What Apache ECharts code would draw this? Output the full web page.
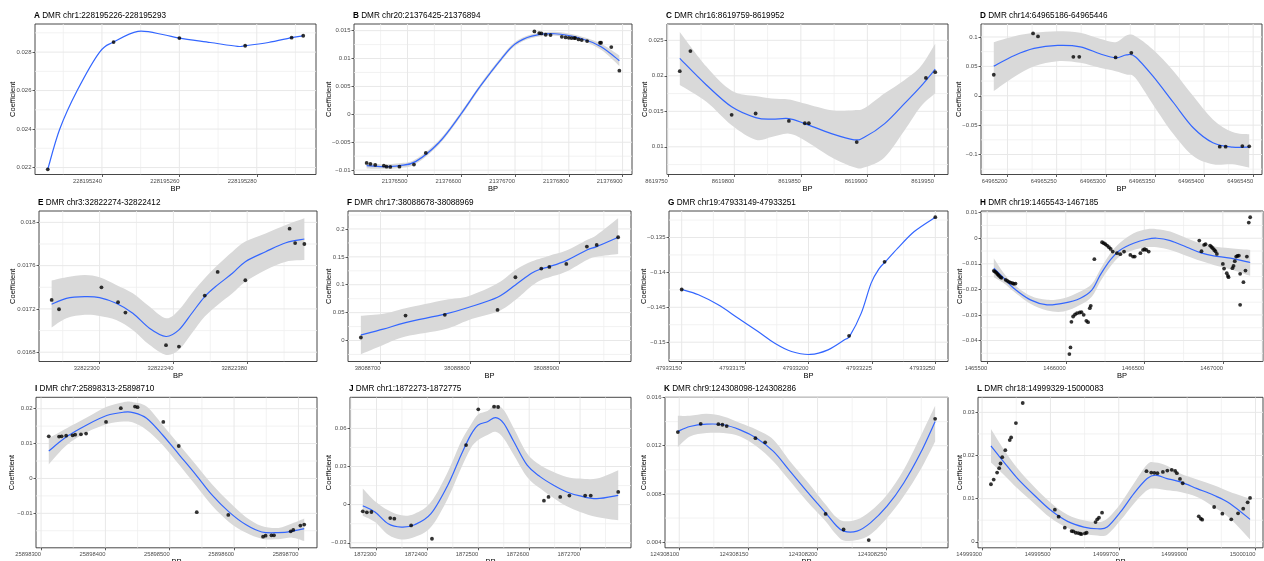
<!DOCTYPE html>
<html><head><meta charset="utf-8">
<script src="https://cdn.jsdelivr.net/npm/echarts@6/dist/echarts.min.js"></script>
<style>html,body{margin:0;padding:0;background:#fff}#c{width:1264px;height:561px}</style>
</head><body><div id="c"></div>
<script>
// ================= DATA =================
// ---- A ----
const titleA = 'DMR chr1:228195226-228195293';
const ptXA = [228195226, 228195243, 228195260, 228195277, 228195289, 228195292];
const ptYA = [0.02191, 0.02852, 0.02873, 0.02833, 0.02875, 0.02885];
const fitXA = [228195226, 228195229.1, 228195233.6, 228195239.4, 228195243, 228195249.3, 228195256, 228195260, 228195268, 228195275, 228195277, 228195283, 228195289, 228195292];
const fitYA = [0.02191, 0.024, 0.026, 0.028, 0.02852, 0.02908, 0.0289, 0.02873, 0.0285, 0.0283, 0.02833, 0.0285, 0.02875, 0.02885];
const loA = null, hiA = null;
const xTicksA = [228195240, 228195260, 228195280];
const yTicksA = [0.022, 0.024, 0.026, 0.028];
const yLimA = [0.02164, 0.02946];

// ---- B ----
const titleB = 'DMR chr20:21376425-21376894';
const ptXB = [21376424, 21376431, 21376440, 21376456, 21376461, 21376468, 21376485, 21376512, 21376534, 21376736, 21376745, 21376749, 21376757, 21376766, 21376787, 21376794, 21376800, 21376805, 21376810, 21376812, 21376818, 21376824, 21376834, 21376858, 21376860, 21376879, 21376894];
const ptYB = [-0.00871, -0.00889, -0.00907, -0.00919, -0.00937, -0.00943, -0.00937, -0.00901, -0.00692, 0.01486, 0.01456, 0.0145, 0.01426, 0.0142, 0.0139, 0.01378, 0.01372, 0.01366, 0.01366, 0.01366, 0.01343, 0.01331, 0.01313, 0.01283, 0.01283, 0.01205, 0.00782];
const fitXB = [21376424, 21376454, 21376485, 21376515, 21376559, 21376599, 21376635, 21376675, 21376700, 21376731, 21376774, 21376823, 21376860, 21376894];
const fitYB = [-0.00919, -0.00937, -0.00919, -0.00847, -0.005, 0, 0.005, 0.01, 0.01259, 0.01402, 0.01444, 0.0136, 0.01211, 0.00961];
const loB = [-0.00969, -0.00977, -0.00961, -0.00889, -0.0054, -0.00038, 0.00464, 0.00964, 0.01223, 0.01368, 0.0141, 0.01324, 0.01156, 0.00866];
const hiB = [-0.00869, -0.00897, -0.00877, -0.00805, -0.0046, 0.00038, 0.00536, 0.01036, 0.01295, 0.01436, 0.01478, 0.01396, 0.01266, 0.01056];
const xTicksB = [21376500, 21376600, 21376700, 21376800, 21376900];
const yTicksB = [-0.01, -0.005, 0, 0.005, 0.01, 0.015];
const yLimB = [-0.01078, 0.01619];

// ---- C ----
const titleC = 'DMR chr16:8619759-8619952';
const ptXC = [8619759, 8619767, 8619798, 8619816, 8619841, 8619853, 8619856, 8619892, 8619944, 8619951];
const ptYC = [0.02065, 0.02349, 0.0145, 0.01469, 0.01365, 0.01332, 0.01332, 0.01067, 0.0197, 0.02051];
const fitXC = [8619759, 8619779, 8619798, 8619816, 8619828, 8619841, 8619853, 8619873, 8619890, 8619898, 8619913, 8619928, 8619940, 8619951];
const fitYC = [0.02245, 0.01871, 0.01563, 0.01412, 0.01389, 0.01398, 0.01327, 0.01185, 0.01099, 0.01137, 0.01327, 0.01611, 0.01847, 0.02093];
const loC = [0.01871, 0.01634, 0.01303, 0.01099, 0.01137, 0.01185, 0.0109, 0.00854, 0.00712, 0.00712, 0.00854, 0.01232, 0.01563, 0.01753];
const hiC = [0.02618, 0.02131, 0.01791, 0.01715, 0.01682, 0.01668, 0.01611, 0.01516, 0.01516, 0.01545, 0.01753, 0.01942, 0.02131, 0.02453];
const xTicksC = [8619750, 8619800, 8619850, 8619900, 8619950];
const yTicksC = [0.01, 0.015, 0.02, 0.025];
const yLimC = [0.0061, 0.0273];

// ---- D ----
const titleD = 'DMR chr14:64965186-64965446';
const ptXD = [64965186, 64965226, 64965231, 64965267, 64965273, 64965310, 64965326, 64965416, 64965422, 64965439, 64965446];
const ptYD = [0.0357, 0.106, 0.1009, 0.0663, 0.0663, 0.0652, 0.0731, -0.0867, -0.0867, -0.0856, -0.0861];
const fitXD = [64965186, 64965207, 64965227, 64965251, 64965274, 64965294, 64965310, 64965321, 64965330, 64965348, 64965369, 64965389, 64965409, 64965429, 64965446];
const fitYD = [0.0504, 0.0686, 0.0805, 0.0856, 0.0833, 0.0714, 0.0646, 0.0695, 0.0665, 0.0334, -0.0119, -0.0544, -0.0799, -0.0873, -0.0873];
const loD = [0.0079, 0.0323, 0.0504, 0.0589, 0.0561, 0.0476, 0.0419, 0.0363, 0.0306, -0.0147, -0.0657, -0.1026, -0.1167, -0.1167, -0.1224];
const hiD = [0.0912, 0.1014, 0.1071, 0.1099, 0.1071, 0.0969, 0.0912, 0.1026, 0.1014, 0.0788, 0.0419, -0.0006, -0.0402, -0.0618, -0.0657];
const xTicksD = [64965200, 64965250, 64965300, 64965350, 64965400, 64965450];
const yTicksD = [-0.1, -0.05, 0, 0.05, 0.1];
const yLimD = [-0.134, 0.1221];

// ---- E ----
const titleE = 'DMR chr3:32822274-32822412';
const ptXE = [32822274, 32822278, 32822301, 32822310, 32822314, 32822336, 32822343, 32822357, 32822364, 32822379, 32822403, 32822406, 32822411];
const ptYE = [0.017283, 0.017197, 0.0174, 0.017262, 0.017166, 0.016865, 0.016852, 0.017323, 0.017542, 0.017465, 0.017942, 0.017809, 0.0178];
const fitXE = [32822274, 32822282, 32822292, 32822300, 32822309, 32822318, 32822327, 32822336, 32822343, 32822350, 32822357, 32822364, 32822372, 32822379, 32822390, 32822401, 32822411];
const fitYE = [0.017243, 0.017298, 0.017314, 0.017305, 0.017252, 0.01716, 0.017022, 0.016945, 0.017006, 0.01716, 0.017314, 0.017422, 0.017529, 0.017637, 0.017729, 0.017812, 0.017846];
const loE = [0.017028, 0.017114, 0.017145, 0.017135, 0.017098, 0.017006, 0.016868, 0.016775, 0.016822, 0.016975, 0.017129, 0.017237, 0.017345, 0.017452, 0.01756, 0.017637, 0.017652];
const hiE = [0.017462, 0.017492, 0.017514, 0.017492, 0.017422, 0.017345, 0.017222, 0.017114, 0.017191, 0.017345, 0.017483, 0.017606, 0.017729, 0.017822, 0.017898, 0.017975, 0.018037];
const xTicksE = [32822300, 32822340, 32822380];
const yTicksE = [0.0168, 0.0172, 0.0176, 0.018];
const yLimE = [0.016714, 0.018105];

// ---- F ----
const titleF = 'DMR chr17:38088678-38088969';
const ptXF = [38088678, 38088728, 38088772, 38088831, 38088851, 38088880, 38088889, 38088908, 38088931, 38088942, 38088966];
const ptYF = [0.0054, 0.0448, 0.046, 0.0549, 0.1134, 0.129, 0.1319, 0.1373, 0.1684, 0.1713, 0.1851];
const fitXF = [38088678, 38088703, 38088728, 38088772, 38088799, 38088831, 38088851, 38088869, 38088880, 38088889, 38088908, 38088931, 38088942, 38088966];
const fitYF = [0.0101, 0.0203, 0.0322, 0.0472, 0.0597, 0.0776, 0.0997, 0.1206, 0.1284, 0.1325, 0.1433, 0.1624, 0.1684, 0.1851];
const loF = [-0.0245, -0.0078, 0.0072, 0.0203, 0.037, 0.0519, 0.0728, 0.0979, 0.1087, 0.1135, 0.1236, 0.1445, 0.1504, 0.1552];
const hiF = [0.0442, 0.0478, 0.0579, 0.0728, 0.08, 0.1027, 0.1266, 0.1415, 0.1475, 0.1522, 0.1612, 0.1803, 0.1893, 0.2191];
const xTicksF = [38088700, 38088800, 38088900];
const yTicksF = [0, 0.05, 0.1, 0.15, 0.2];
const yLimF = [-0.0376, 0.2322];

// ---- G ----
const titleG = 'DMR chr19:47933149-47933251';
const ptXG = [47933150, 47933216, 47933230, 47933250];
const ptYG = [-0.14245, -0.14909, -0.13849, -0.13209];
const fitXG = [47933150, 47933156.6, 47933164.4, 47933172.3, 47933180.1, 47933186.7, 47933193.3, 47933200.7, 47933207.7, 47933214.2, 47933216.3, 47933220.8, 47933224.7, 47933228, 47933230.3, 47933235.2, 47933241.7, 47933250];
const fitYG = [-0.14245, -0.14321, -0.14465, -0.14656, -0.14847, -0.15014, -0.15133, -0.15176, -0.1511, -0.14966, -0.14909, -0.14584, -0.14154, -0.13939, -0.13849, -0.13653, -0.13414, -0.13209];
const loG = null, hiG = null;
const xTicksG = [47933150, 47933175, 47933200, 47933225, 47933250];
const yTicksG = [-0.15, -0.145, -0.14, -0.135];
const yLimG = [-0.15277, -0.1312];

// ---- H ----
const titleH = 'DMR chr19:1465543-1467185';
const ptXH = [1465542, 1465549, 1465557, 1465564, 1465570, 1465576, 1465585, 1465591, 1465617, 1465627, 1465638, 1465648, 1465661, 1465669, 1465680,
  1466023, 1466030, 1466036, 1466047, 1466059, 1466072, 1466089, 1466100, 1466114, 1466131, 1466142, 1466153, 1466159, 1466182,
  1466231, 1466242, 1466252, 1466263, 1466275, 1466286, 1466299, 1466326, 1466347, 1466371, 1466411, 1466428, 1466439, 1466475, 1466492, 1466502, 1466513, 1466528,
  1466850, 1466864, 1466881, 1466890, 1466919, 1466928, 1466936, 1466945, 1466953, 1466962, 1467000, 1467008, 1467025, 1467032, 1467036, 1467061, 1467068, 1467076, 1467085, 1467093, 1467102, 1467110, 1467110, 1467131, 1467144, 1467153, 1467165, 1467174];
const ptYH = [-0.01276, -0.01302, -0.01341, -0.01393, -0.01432, -0.01471, -0.01524, -0.01549, -0.01628, -0.01667, -0.01706, -0.01732, -0.01758, -0.01784, -0.01771,
  -0.04531, -0.04271, -0.03268, -0.0306, -0.02982, -0.0293, -0.02903, -0.0289, -0.02995, -0.03229, -0.03281, -0.02734, -0.02643, -0.0082,
  -0.00156, -0.00195, -0.00234, -0.00286, -0.00352, -0.00417, -0.00521, -0.00586, -0.00625, -0.00521, -0.00651, -0.00716, -0.00716, -0.00586, -0.00456, -0.0043, -0.00456, -0.00521,
  -0.00091, -0.00508, -0.0026, -0.00234, -0.00286, -0.00339, -0.00391, -0.00456, -0.00508, -0.00612, -0.01003, -0.01185, -0.01367, -0.01471, -0.01523, -0.01172, -0.01081, -0.00898, -0.00716, -0.0069, -0.00677, -0.02604, -0.01393, -0.01719, -0.01263, -0.00716, 0.00612, 0.0082];
const fitXH = [1465542, 1465606, 1465669, 1465775, 1465881, 1465987, 1466093, 1466167, 1466220, 1466284, 1466347, 1466432, 1466517, 1466580, 1466665, 1466771, 1466856, 1466941, 1467047, 1467174];
const fitYH = [-0.01172, -0.01562, -0.01953, -0.02409, -0.02604, -0.02539, -0.02344, -0.02018, -0.01432, -0.00846, -0.00456, -0.00195, -0.00039, 0, -0.00091, -0.00352, -0.0056, -0.0069, -0.00781, -0.0095];
const loH = [-0.01523, -0.01758, -0.02083, -0.02565, -0.02825, -0.02864, -0.02604, -0.02279, -0.01693, -0.01107, -0.0069, -0.00456, -0.00352, -0.00352, -0.00456, -0.0069, -0.00885, -0.01042, -0.01211, -0.01471];
const hiH = [-0.00781, -0.01367, -0.01797, -0.02252, -0.02409, -0.02344, -0.02083, -0.01784, -0.01211, -0.00586, -0.00169, 0.00195, 0.00352, 0.00352, 0.0026, 0, -0.00195, -0.00326, -0.00391, -0.00456];
const xTicksH = [1465500, 1466000, 1466500, 1467000];
const yTicksH = [-0.04, -0.03, -0.02, -0.01, 0, 0.01];
const yLimH = [-0.0482, 0.01065];

// ---- I ----
const titleI = 'DMR chr7:25898313-25898710';
const ptXI = [25898312, 25898328, 25898332, 25898339, 25898349, 25898353, 25898362, 25898370, 25898401, 25898424, 25898446, 25898450, 25898490, 25898514, 25898542, 25898591, 25898645, 25898649, 25898658, 25898662, 25898688, 25898692, 25898703, 25898709];
const ptYI = [0.01208, 0.01199, 0.01208, 0.01227, 0.01237, 0.01256, 0.01266, 0.01285, 0.0162, 0.02013, 0.02061, 0.02042, 0.0162, 0.0093, -0.00968, -0.01045, -0.01668, -0.0164, -0.0163, -0.0163, -0.01515, -0.01477, -0.01352, -0.01323];
const fitXI = [25898312, 25898340, 25898371, 25898402, 25898428, 25898443, 25898464, 25898489, 25898515, 25898541, 25898566, 25898592, 25898618, 25898643, 25898669, 25898690, 25898709];
const fitYI = [0.00786, 0.01199, 0.01534, 0.01803, 0.01898, 0.01889, 0.01726, 0.01246, 0.00671, 0.00096, -0.00479, -0.00959, -0.01323, -0.01534, -0.01553, -0.01515, -0.01438];
const loI = [0.00403, 0.00959, 0.01323, 0.01553, 0.0163, 0.01601, 0.0139, 0.00959, 0.00384, -0.00211, -0.00786, -0.01246, -0.01553, -0.01726, -0.01745, -0.01697, -0.01793];
const hiI = [0.01151, 0.01438, 0.01745, 0.02052, 0.02186, 0.02186, 0.02061, 0.01534, 0.00959, 0.00384, -0.00173, -0.00671, -0.01103, -0.01361, -0.01419, -0.01294, -0.01151];
const xTicksI = [25898300, 25898400, 25898500, 25898600, 25898700];
const yTicksI = [-0.01, 0, 0.01, 0.02];
const yLimI = [-0.01988, 0.02326];

// ---- J ----
const titleJ = 'DMR chr1:1872273-1872775';
const ptXJ = [1872273, 1872281, 1872290, 1872327, 1872335, 1872368, 1872409, 1872476, 1872500, 1872531, 1872539, 1872629, 1872638, 1872661, 1872679, 1872710, 1872721, 1872775];
const ptYJ = [-0.00526, -0.00605, -0.00579, -0.01053, -0.01105, -0.01632, -0.02684, 0.04684, 0.075, 0.07711, 0.07684, 0.00316, 0.00605, 0.00605, 0.00711, 0.00711, 0.00711, 0.01];
const fitXJ = [1872273, 1872297, 1872323, 1872349, 1872375, 1872407, 1872440, 1872466, 1872485, 1872500, 1872518, 1872534, 1872550, 1872570, 1872596, 1872622, 1872648, 1872674, 1872700, 1872733, 1872775];
const fitYJ = [-0.0008, -0.00579, -0.015, -0.01763, -0.01579, -0.00711, 0.01526, 0.03895, 0.05474, 0.06263, 0.06526, 0.06842, 0.06395, 0.04947, 0.03105, 0.02184, 0.01526, 0.01, 0.00684, 0.00474, 0.00737];
const loJ = [-0.0087, -0.01368, -0.02368, -0.02737, -0.02553, -0.01763, 0.00474, 0.02842, 0.04421, 0.05079, 0.05474, 0.05737, 0.05211, 0.03895, 0.02184, 0.01263, 0.00526, -0.00132, -0.00579, -0.00974, -0.01237];
const hiJ = [0.01263, 0.00263, -0.00447, -0.00842, -0.00711, 0.00211, 0.02579, 0.04947, 0.06263, 0.07105, 0.07368, 0.07842, 0.07447, 0.06, 0.04026, 0.03105, 0.02579, 0.02184, 0.02053, 0.02053, 0.02711];
const xTicksJ = [1872300, 1872400, 1872500, 1872600, 1872700];
const yTicksJ = [-0.03, 0, 0.03, 0.06];
const yLimJ = [-0.03395, 0.08447];

// ---- K ----
const titleK = 'DMR chr9:124308098-124308286';
const ptXK = [124308099, 124308115.5, 124308128.3, 124308131.2, 124308134.3, 124308155.1, 124308162.1, 124308205.8, 124308218.8, 124308237, 124308285];
const ptYK = [0.01313, 0.01382, 0.01379, 0.01374, 0.01363, 0.01263, 0.01228, 0.00634, 0.00505, 0.00417, 0.01423];
const fitXK = [124308099, 124308107.7, 124308119.8, 124308131.9, 124308144, 124308156, 124308168.1, 124308180.2, 124308192.3, 124308205.8, 124308212.8, 124308218.8, 124308228.5, 124308238.2, 124308250.2, 124308262.3, 124308274.4, 124308285];
const fitYK = [0.01319, 0.0136, 0.01379, 0.01374, 0.01332, 0.01263, 0.01153, 0.00988, 0.00822, 0.00643, 0.00546, 0.00491, 0.00491, 0.0056, 0.00698, 0.00891, 0.01139, 0.01401];
const loK = [0.01189, 0.01277, 0.01305, 0.01305, 0.01277, 0.01194, 0.0107, 0.00905, 0.00739, 0.00574, 0.00472, 0.00414, 0.00417, 0.00463, 0.00601, 0.00781, 0.01001, 0.01236];
const hiK = [0.01448, 0.01448, 0.01465, 0.01443, 0.01388, 0.01332, 0.0125, 0.0107, 0.00905, 0.00712, 0.00615, 0.00574, 0.00588, 0.00657, 0.00794, 0.01001, 0.01277, 0.01531];
const xTicksK = [124308100, 124308150, 124308200, 124308250];
const yTicksK = [0.004, 0.008, 0.012, 0.016];
const yLimK = [0.00353, 0.01602];

// ---- L ----
const titleL = 'DMR chr18:14999329-15000083';
const ptXL = [14999326, 14999334, 14999344, 14999350, 14999354, 14999359, 14999368, 14999381, 14999385, 14999399, 14999419,
  14999513, 14999524, 14999542, 14999562, 14999567, 14999574, 14999581, 14999587, 14999591, 14999601, 14999606, 14999632, 14999637, 14999642, 14999651,
  14999781, 14999795, 14999804, 14999813, 14999829, 14999842, 14999855, 14999865, 14999870, 14999879, 14999887,
  14999934, 14999940, 14999944, 14999979, 15000003, 15000029, 15000049, 15000064, 15000077, 15000084];
const ptYL = [0.01333, 0.01442, 0.01605, 0.01705, 0.01814, 0.01961, 0.02124, 0.02357, 0.02419, 0.02752, 0.03217,
  0.00744, 0.00581, 0.00326, 0.00248, 0.0024, 0.00209, 0.00202, 0.00186, 0.00178, 0.00194, 0.00209, 0.00457, 0.00519, 0.00558, 0.00674,
  0.01636, 0.01605, 0.01597, 0.01589, 0.0162, 0.01651, 0.01667, 0.01643, 0.01589, 0.01457, 0.01357,
  0.00589, 0.00535, 0.00512, 0.00806, 0.00651, 0.00519, 0.00659, 0.00767, 0.00915, 0.01016];
const fitXL = [14999326, 14999365, 14999404, 14999453, 14999501, 14999550, 14999598, 14999637, 14999666, 14999705, 14999744, 14999783, 14999807, 14999841, 14999880, 14999929, 14999978, 15000026, 15000084];
const fitYL = [0.02225, 0.01837, 0.01465, 0.01078, 0.00729, 0.00473, 0.00341, 0.00302, 0.00341, 0.0069, 0.01116, 0.01465, 0.01543, 0.01465, 0.01388, 0.01233, 0.01078, 0.00884, 0.00519];
const loL = [0.01837, 0.01543, 0.01233, 0.00884, 0.0055, 0.00318, 0.00186, 0.00147, 0.00163, 0.00496, 0.00884, 0.01194, 0.01233, 0.01194, 0.01155, 0.01039, 0.00806, 0.00535, 0.00054];
const hiL = [0.02612, 0.02124, 0.01698, 0.01271, 0.00907, 0.00628, 0.00496, 0.00457, 0.00535, 0.00884, 0.01349, 0.01791, 0.01837, 0.0176, 0.01581, 0.01442, 0.0131, 0.01155, 0.01];
const xTicksL = [14999300, 14999500, 14999700, 14999900, 15000100];
const yTicksL = [0, 0.01, 0.02, 0.03];
const yLimL = [-0.0014, 0.03349];

// ================= LAYOUT =================
const tags = ['A','B','C','D','E','F','G','H','I','J','K','L'];
const gridLefts  = [35, 354, 667, 981, 39, 348, 669, 981, 36, 350, 665, 978];
const gridRights = [316, 632, 948, 1262, 317, 631, 948, 1263, 317, 631, 948, 1263];
const rowTops = [24, 211, 397.3];
const plotH = 150.5;
const titleTops = [12, 198.5, 385];
const yNameGaps = [18.3, 21.3, 18.3, 18.3, 22.3, 15.3, 21.3, 17.3, 19.7, 17.3, 17.3, 14.3];

const panels = [
  [titleA, ptXA, ptYA, fitXA, fitYA, loA, hiA, xTicksA, yTicksA, yLimA],
  [titleB, ptXB, ptYB, fitXB, fitYB, loB, hiB, xTicksB, yTicksB, yLimB],
  [titleC, ptXC, ptYC, fitXC, fitYC, loC, hiC, xTicksC, yTicksC, yLimC],
  [titleD, ptXD, ptYD, fitXD, fitYD, loD, hiD, xTicksD, yTicksD, yLimD],
  [titleE, ptXE, ptYE, fitXE, fitYE, loE, hiE, xTicksE, yTicksE, yLimE],
  [titleF, ptXF, ptYF, fitXF, fitYF, loF, hiF, xTicksF, yTicksF, yLimF],
  [titleG, ptXG, ptYG, fitXG, fitYG, loG, hiG, xTicksG, yTicksG, yLimG],
  [titleH, ptXH, ptYH, fitXH, fitYH, loH, hiH, xTicksH, yTicksH, yLimH],
  [titleI, ptXI, ptYI, fitXI, fitYI, loI, hiI, xTicksI, yTicksI, yLimI],
  [titleJ, ptXJ, ptYJ, fitXJ, fitYJ, loJ, hiJ, xTicksJ, yTicksJ, yLimJ],
  [titleK, ptXK, ptYK, fitXK, fitYK, loK, hiK, xTicksK, yTicksK, yLimK],
  [titleL, ptXL, ptYL, fitXL, fitYL, loL, hiL, xTicksL, yTicksL, yLimL]
];

// ================= BUILD =================
const FONT = '"Liberation Sans", Arial, Helvetica, sans-serif';
const GRID_MAJOR = '#e8e8e8';
const GRID_MINOR = '#efefef';
const BAND = '#d9d9d9';
const fmtY = v => (v < 0 ? '\u2212' : '') + String(Math.abs(v));
function minors(ticks, lo, hi) {
  const s = ticks[1] - ticks[0], out = [];
  for (let k = -2; k < ticks.length + 2; k++) {
    const v = ticks[0] + s * (k + 0.5);
    if (v > lo && v < hi) out.push(v);
  }
  return out;
}
// Catmull-Rom segments (pixel space) for a smooth outline through given pixel points
function crSegments(P) {
  let s = '';
  for (let k = 0; k < P.length - 1; k++) {
    const p0 = P[k - 1] || P[k], p1 = P[k], p2 = P[k + 1], p3 = P[k + 2] || P[k + 1];
    const c1x = p1[0] + (p2[0] - p0[0]) / 6, c1y = p1[1] + (p2[1] - p0[1]) / 6;
    const c2x = p2[0] - (p3[0] - p1[0]) / 6, c2y = p2[1] - (p3[1] - p1[1]) / 6;
    s += 'C' + c1x + ',' + c1y + ' ' + c2x + ',' + c2y + ' ' + p2[0] + ',' + p2[1];
  }
  return s;
}

const option = { animation: false, backgroundColor: '#fff', title: [], grid: [], xAxis: [], yAxis: [], series: [] };

panels.forEach((p, i) => {
  const [title, px, py, fx, fy, lo, hi, xt, yt, yl] = p;
  const row = Math.floor(i / 4);
  const xMinD = Math.min(...px), xMaxD = Math.max(...px), r = xMaxD - xMinD;
  const xmin = xMinD - 0.05 * r, xmax = xMaxD + 0.05 * r;

  option.title.push({
    text: '{b|' + tags[i] + '} ' + title,
    left: gridLefts[i] - 1, top: titleTops[row], padding: 0,
    textStyle: { fontSize: 8.2, fontWeight: 'normal', color: '#000', fontFamily: FONT,
      rich: { b: { fontSize: 8.2, fontWeight: 'bold', color: '#000', fontFamily: FONT } } }
  });
  option.grid.push({
    left: gridLefts[i], top: rowTops[row], width: gridRights[i] - gridLefts[i], height: plotH,
    show: true, backgroundColor: 'transparent', borderColor: '#333333', borderWidth: 0.9,
    containLabel: false, outerBoundsMode: 'none'
  });
  option.xAxis.push({
    type: 'value', gridIndex: i, min: xmin, max: xmax, scale: true, position: 'bottom',
    axisLine: { show: false, onZero: false },
    axisTick: { show: true, customValues: xt, length: 2.5, lineStyle: { color: '#333333', width: 0.8 } },
    axisLabel: { customValues: xt, fontSize: 5.8, color: '#4d4d4d', fontFamily: FONT, align: 'right',
      margin: 3.5, hideOverlap: false, formatter: v => String(v) },
    splitLine: { show: false },
    name: 'BP', nameLocation: 'middle', nameGap: 10, nameMoveOverlap: false,
    nameTextStyle: { fontSize: 7.5, color: '#000', fontFamily: FONT }
  });
  option.yAxis.push({
    type: 'value', gridIndex: i, min: yl[0], max: yl[1], scale: true, position: 'left',
    axisLine: { show: false, onZero: false },
    axisTick: { show: true, customValues: yt, length: 2.5, lineStyle: { color: '#333333', width: 0.8 } },
    axisLabel: { customValues: yt, fontSize: 6, color: '#4d4d4d', fontFamily: FONT, margin: 3.5,
      hideOverlap: false, formatter: fmtY },
    splitLine: { show: false },
    name: 'Coefficient', nameLocation: 'middle', nameRotate: 90, nameGap: yNameGaps[i], nameMoveOverlap: false,
    nameTextStyle: { fontSize: 7.5, color: '#000', fontFamily: FONT }
  });

  // grid lines (major at ticks, minor halfway), drawn through the axis scales
  const xMin = minors(xt, xmin, xmax), yMin = minors(yt, yl[0], yl[1]);
  option.series.push({
    type: 'custom', xAxisIndex: i, yAxisIndex: i, silent: true, z: 0, clip: true,
    data: [[xmin, yl[0]]],
    renderItem: (params, api) => {
      const kids = [];
      const vline = (v, c, w) => {
        const a = api.coord([v, yl[0]]), b = api.coord([v, yl[1]]);
        kids.push({ type: 'line', shape: { x1: a[0], y1: a[1], x2: b[0], y2: b[1] }, style: { stroke: c, lineWidth: w } });
      };
      const hline = (v, c, w) => {
        const a = api.coord([xmin, v]), b = api.coord([xmax, v]);
        kids.push({ type: 'line', shape: { x1: a[0], y1: a[1], x2: b[0], y2: b[1] }, style: { stroke: c, lineWidth: w } });
      };
      xMin.forEach(v => vline(v, GRID_MINOR, 0.8));
      yMin.forEach(v => hline(v, GRID_MINOR, 0.8));
      xt.forEach(v => vline(v, GRID_MAJOR, 1));
      yt.forEach(v => hline(v, GRID_MAJOR, 1));
      return { type: 'group', children: kids };
    }
  });

  // confidence band
  if (lo && hi) {
    option.series.push({
      type: 'custom', xAxisIndex: i, yAxisIndex: i, silent: true, z: 1, clip: true,
      data: fx.map((x, j) => [x, lo[j], hi[j]]),
      encode: { x: 0, y: [1, 2] },
      renderItem: (params, api) => {
        if (params.dataIndexInside !== 0) return null;
        const n = params.dataInsideLength;
        const up = [], dn = [];
        for (let j = 0; j < n; j++) {
          up.push(api.coord([api.value(0, j), api.value(2, j)]));
          dn.push(api.coord([api.value(0, j), api.value(1, j)]));
        }
        dn.reverse();
        const d = 'M' + up[0][0] + ',' + up[0][1] + crSegments(up) +
                  'L' + dn[0][0] + ',' + dn[0][1] + crSegments(dn) + 'Z';
        return { type: 'path', shape: { pathData: d }, style: { fill: BAND, stroke: null } };
      }
    });
  }
  // fitted curve
  option.series.push({
    type: 'custom', xAxisIndex: i, yAxisIndex: i, silent: true, z: 2, clip: true,
    data: fx.map((x, j) => [x, fy[j]]),
    encode: { x: 0, y: 1 },
    renderItem: (params, api) => {
      if (params.dataIndexInside !== 0) return null;
      const n = params.dataInsideLength, P = [];
      for (let j = 0; j < n; j++) P.push(api.coord([api.value(0, j), api.value(1, j)]));
      const d = 'M' + P[0][0] + ',' + P[0][1] + crSegments(P);
      return { type: 'path', shape: { pathData: d }, style: { fill: null, stroke: '#3366ff', lineWidth: 1.2 } };
    }
  });
  // points
  option.series.push({
    type: 'scatter', xAxisIndex: i, yAxisIndex: i, data: px.map((x, j) => [x, py[j]]), symbolSize: 3.8,
    itemStyle: { color: '#000' }, silent: true, z: 3
  });
});

const chart = echarts.init(document.getElementById('c'), null, { renderer: 'canvas' });
chart.setOption(option);
</script>
</body></html>
